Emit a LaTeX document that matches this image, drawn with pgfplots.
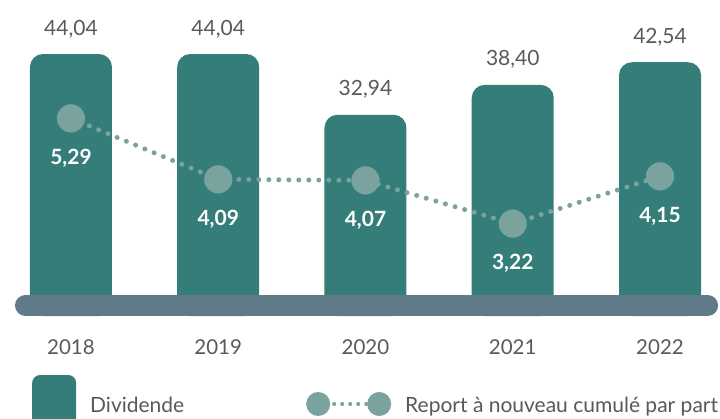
\documentclass[border=0pt]{standalone}
\usepackage{fontspec}
\setmainfont{Lato}
\usepackage{pgfplots}
\pgfplotsset{compat=1.18}
\definecolor{barcol}{HTML}{347D79}
\definecolor{dotcol}{HTML}{7AA29E}
\definecolor{basecol}{HTML}{607B88}
\definecolor{txtgray}{HTML}{595959}
\pgfplotsset{/pgf/number format/.cd, assume math mode=true, use comma, fixed, fixed zerofill, precision=2}
\pgfplotstableread{
x r
0 5.29
1 4.09
2 4.07
3 3.22
4 4.15
}\reportdata
\begin{document}
\begin{tikzpicture}[x=1pt,y=1pt]
\useasboundingbox (0,0) rectangle (720,418);
\clip (0,0) rectangle (720,418);
\begin{axis}[
  at={(0pt,102pt)}, anchor=south west,
  scale only axis, width=720pt, height=316pt,
  xmin=-0.482, xmax=4.4075, ymin=0, ymax=57.75,
  enlargelimits=false,
  axis line style={draw=none},
  ytick=\empty,
  xtick={0,1,2,3,4},
  xticklabels={2018,2019,2020,2021,2022},
  major tick length=0pt,
  xtick style={draw=none},
  xticklabel style={anchor=base, yshift=-38pt, font=\fontsize{20.5}{24}\selectfont, text=txtgray},
  clip=false,
  ybar, bar width=82pt,
]
\addplot[fill=barcol, draw=none, rounded corners=13pt,
  nodes near coords, point meta=\thisrow{v},
  nodes near coords style={anchor=base, yshift=19pt, text=txtgray, font=\fontsize{21}{25}\selectfont}]
  table[x=x, y expr=\thisrow{v}+3.838] {
x v
0 44.04
1 44.04
2 32.94
3 38.40
4 42.54
};
\draw[basecol, line width=21pt, line cap=round] (axis cs:-0.309,1.919) -- (axis cs:4.323,1.919);
\end{axis}
\begin{axis}[
  at={(0pt,102pt)}, anchor=south west,
  scale only axis, width=720pt, height=316pt,
  xmin=-0.482, xmax=4.4075, ymin=1.406, ymax=7.614,
  enlargelimits=false,
  hide axis, clip=false,
  legend columns=2, legend cell align=left,
  legend style={draw=none, fill=none, inner xsep=0pt, inner ysep=0pt, column sep=14pt,
    at={(axis description cs:0.04444,-0.2848)}, anchor=west,
    nodes={inner sep=0pt, font=\fontsize{21}{25}\selectfont, text=txtgray}},
]
\addlegendimage{legend image code/.code={\path[fill=barcol, draw=none, rounded corners=8pt] (0pt,-31pt) rectangle (44pt,31pt);}}
\addlegendentry{\makebox[202pt][l]{Dividende}}
\addplot[forget plot, dotcol, line width=5pt, line cap=round, dash pattern=on 0pt off 10pt, no marks]
  table[x=x, y=r] {\reportdata};
\addplot[only marks, mark=*, mark size=14pt, mark options={solid, line width=0.1pt, draw=dotcol, fill=dotcol},
  nodes near coords, point meta=y,
  nodes near coords style={anchor=base, yshift=-46pt, text=white, font=\bfseries\fontsize{21}{25}\selectfont},
  legend image code/.code={
    \draw[solid, dotcol, line width=4pt, line cap=round, dash pattern=on 0pt off 8pt] (12pt,2pt) -- (73pt,2pt);
    \path[solid, fill=dotcol, draw=none] (12pt,2pt) circle (12pt);
    \path[solid, fill=dotcol, draw=none] (73pt,2pt) circle (12pt);}]
  table[x=x, y=r] {\reportdata};
\addlegendentry{Report à nouveau cumulé par part}
\end{axis}
\end{tikzpicture}
\end{document}
